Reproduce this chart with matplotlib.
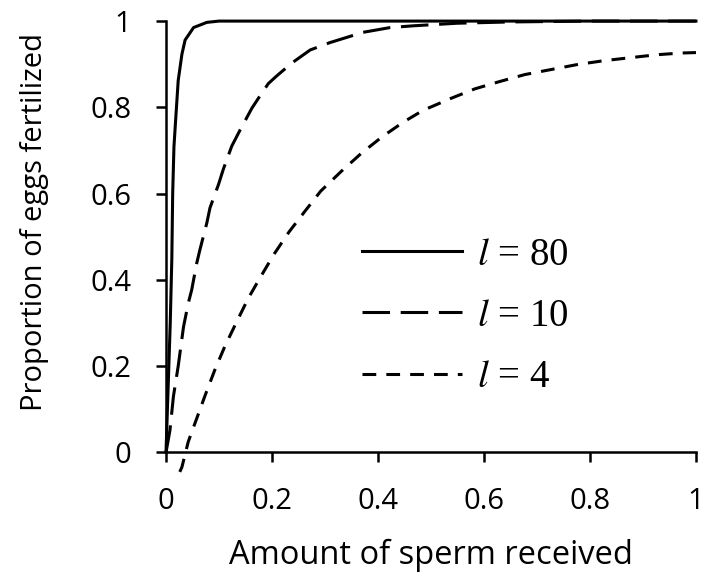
import matplotlib
matplotlib.use("Agg")
from matplotlib import pyplot as plt

# values
x_l80 = [0.0, 0.004, 0.008, 0.011, 0.0126, 0.015, 0.019, 0.023, 0.030, 0.036, 0.052, 0.077,
         0.1, 0.3, 0.6, 1.0]
y_l80 = [0.0, 0.15, 0.3, 0.45, 0.6, 0.709, 0.786, 0.862, 0.923, 0.956, 0.985, 0.997,
         1.0, 1.0, 1.0, 1.0]

x_l10 = [0.0, 0.0075, 0.014, 0.023, 0.033, 0.042, 0.0485, 0.058, 0.064, 0.077, 0.083, 0.099,
         0.108, 0.124, 0.140, 0.162, 0.177, 0.193, 0.209, 0.231, 0.240, 0.272, 0.309, 0.372,
         0.423, 0.466, 0.549, 0.65, 0.8, 1.0]
y_l10 = [0.0, 0.052, 0.13, 0.2, 0.291, 0.346, 0.377, 0.439, 0.47, 0.532, 0.567, 0.621,
         0.656, 0.710, 0.748, 0.798, 0.826, 0.855, 0.873, 0.896, 0.905, 0.933, 0.95, 0.974,
         0.985, 0.989, 0.995, 0.998, 1.0, 1.0]

x_l4 = [0.026, 0.030, 0.042, 0.058, 0.074, 0.092, 0.111, 0.133, 0.155, 0.177, 0.204, 0.232,
        0.262, 0.292, 0.331, 0.369, 0.407, 0.448, 0.485, 0.536, 0.583, 0.630, 0.677, 0.728,
        0.775, 0.825, 0.875, 0.926, 0.973, 1.0]
y_l4 = [-0.045, -0.034, 0.025, 0.079, 0.133, 0.191, 0.246, 0.302, 0.357, 0.404, 0.46, 0.511,
        0.559, 0.606, 0.652, 0.694, 0.731, 0.766, 0.793, 0.820, 0.843, 0.860, 0.876, 0.888,
        0.899, 0.908, 0.915, 0.922, 0.926, 0.927]

x_ticks = [0, 0.2, 0.4, 0.6, 0.8, 1]
y_ticks = [0, 0.2, 0.4, 0.6, 0.8, 1]
tick_labels = ["0", "0.2", "0.4", "0.6", "0.8", "1"]

plt.rcParams["font.family"] = ["Open Sans", "DejaVu Sans"]
plt.rcParams["mathtext.fontset"] = "stix"

fig = plt.figure(figsize=(7.07, 5.84), dpi=100)
ax = fig.add_axes([0.2348, 0.2252, 0.7496, 0.7387])

lw = 2.2
ax.plot(x_l80, y_l80, color="black", lw=lw, label="$l$ = 80", clip_on=False)
ax.plot(x_l10, y_l10, color="black", lw=lw, dashes=(9, 3.5), label="$l$ = 10", clip_on=False)
ax.plot(x_l4, y_l4, color="black", lw=lw, dashes=(4.5, 3.3), label="$l$ = 4", clip_on=False)

ax.set_xlim(0, 1)
ax.set_ylim(0, 1)
ax.set_xticks(x_ticks)
ax.set_xticklabels(tick_labels)
ax.set_yticks(y_ticks)
ax.set_yticklabels(tick_labels)

for side in ["top", "right"]:
    ax.spines[side].set_visible(False)
for side in ["left", "bottom"]:
    ax.spines[side].set_linewidth(1.8)
ax.tick_params(axis="both", direction="out", length=7, width=1.8, labelsize=21, color="black")
ax.tick_params(axis="x", pad=18)
ax.tick_params(axis="y", pad=18)

ax.set_xlabel("Amount of sperm received", fontsize=23.5)
ax.xaxis.set_label_coords(0.5, -0.2)
ax.set_ylabel("Proportion of eggs fertilized", fontsize=21)
ax.yaxis.set_label_coords(-0.22, 0.535)

leg = ax.legend(loc="center left", bbox_to_anchor=(0.34, 0.315), frameon=False,
                borderaxespad=0, prop={"family": "Liberation Serif", "size": 28},
                handlelength=2.57, handletextpad=0.4, labelspacing=0.62)

fig.savefig("out.png", dpi=100)
